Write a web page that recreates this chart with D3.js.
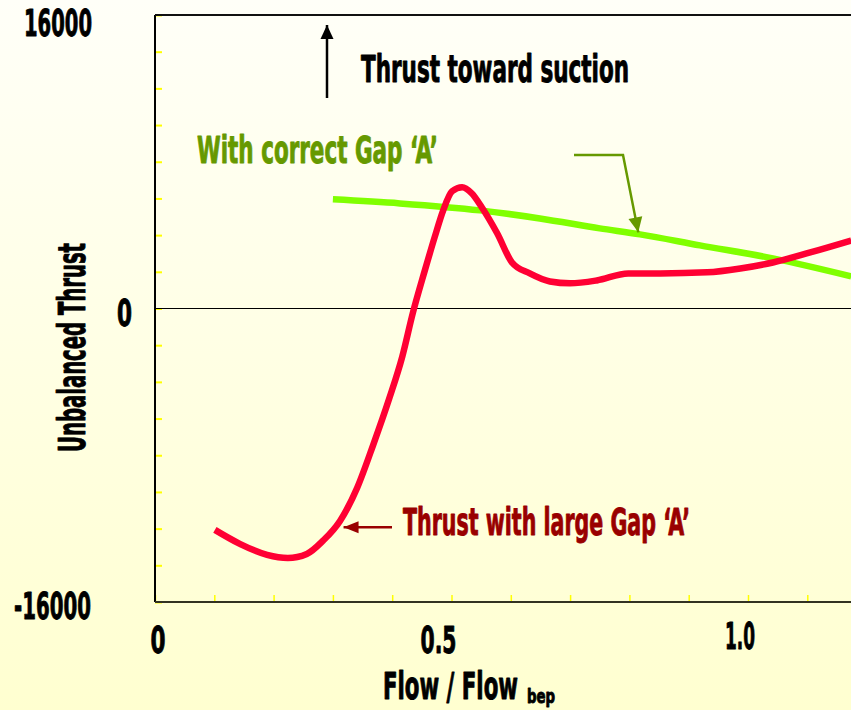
<!DOCTYPE html>
<html>
<head>
<meta charset="utf-8">
<script src="https://cdn.jsdelivr.net/npm/d3@7/dist/d3.min.js"></script>
<style>
  html, body { margin: 0; padding: 0; background: #fffff6; }
  svg { display: block; }
  .heavy { font-family: "Liberation Sans Narrow", "DejaVu Sans Condensed", "Liberation Sans", sans-serif; font-weight: bold; }
</style>
</head>
<body>
<svg id="chart" width="851" height="710"></svg>
<script>
// Flow ratio (Q / Q_bep) and unbalanced axial thrust
const largeGapFlow = [0.101, 0.143, 0.189, 0.224, 0.256, 0.283, 0.312, 0.341, 0.368, 0.395, 0.417,
  0.435, 0.455, 0.472, 0.486, 0.501, 0.518, 0.534, 0.551, 0.577, 0.602, 0.632, 0.666, 0.700,
  0.745, 0.798, 0.852, 0.931, 0.987, 1.042, 1.105, 1.174];
const largeGapThrust = [-12070, -12830, -13430, -13600, -13380, -12670, -11580, -9770, -7430, -4910, -2620,
  -220, 2070, 3930, 5350, 6390, 6610, 6280, 5520, 4100, 2510, 1910, 1470, 1370,
  1530, 1910, 1910, 1970, 2180, 2510, 3060, 3710];

const correctGapFlow = [0.300, 0.413, 0.548, 0.649, 0.750, 0.818, 0.919, 1.042, 1.174];
const correctGapThrust = [5950, 5730, 5350, 4910, 4370, 4040, 3440, 2730, 1750];

const yTickValues = d3.range(-16000, 16001, 2000);
const xTickValues = d3.range(0, 1.2, 0.1);
const yTickLabels = [16000, 0, -16000];
const xTickLabels = [0, 0.5, 1.0];

const W = 851, H = 710;
const svg = d3.select("#chart");

const x = d3.scaleLinear().domain([0, 1]).range([155, 748]);
const y = d3.scaleLinear().domain([-16000, 16000]).range([602, 15]);
const xEnd = W;

// background wash
const defs = svg.append("defs");
const grad = defs.append("linearGradient").attr("id", "bg").attr("x1", 0).attr("y1", 0).attr("x2", 0).attr("y2", 1);
grad.append("stop").attr("offset", "0%").attr("stop-color", "#fffff8");
grad.append("stop").attr("offset", "100%").attr("stop-color", "#ffffd0");
svg.append("rect").attr("width", W).attr("height", H).attr("fill", "url(#bg)");

// yellow minor ticks
svg.append("g")
  .attr("transform", `translate(${x(0)},0)`)
  .call(d3.axisRight(y).tickValues(yTickValues).tickSize(7).tickFormat(""))
  .call(g => g.select(".domain").remove())
  .call(g => g.selectAll("line").attr("stroke", "#ffff00").attr("stroke-width", 2));

svg.append("g")
  .attr("transform", `translate(0,${y(-16000)})`)
  .call(d3.axisTop(x).tickValues(xTickValues).tickSize(7).tickFormat(""))
  .call(g => g.select(".domain").remove())
  .call(g => g.selectAll("line").attr("stroke", "#ffff00").attr("stroke-width", 1.5));

// frame: left axis, top edge, bottom axis, zero line
svg.append("line").attr("x1", x(0)).attr("x2", x(0)).attr("y1", y(16000)).attr("y2", y(-16000))
  .attr("stroke", "#000").attr("stroke-width", 2);
svg.append("line").attr("x1", x(0)).attr("x2", xEnd).attr("y1", y(16000)).attr("y2", y(16000))
  .attr("stroke", "#111").attr("stroke-width", 2);
svg.append("line").attr("x1", x(0)).attr("x2", xEnd).attr("y1", y(-16000)).attr("y2", y(-16000))
  .attr("stroke", "#333322").attr("stroke-width", 2);
svg.append("line").attr("x1", x(0)).attr("x2", xEnd).attr("y1", y(0)).attr("y2", y(0))
  .attr("stroke", "#000").attr("stroke-width", 1.2);

// helper for heavy condensed text squeezed to a given width
function heavyText(sel, str, size, fill, len) {
  const t = sel.append("text").attr("class", "heavy")
    .attr("font-size", size).attr("fill", fill)
    .attr("stroke", fill).attr("stroke-width", 0.9).attr("stroke-linejoin", "round")
    .text(str);
  if (len) t.attr("textLength", len).attr("lengthAdjust", "spacingAndGlyphs");
  return t;
}

// y tick labels
const yLabelPlace = { "16000": { right: 92, dy: 21, len: 68 }, "0": { right: 132, dy: 17, len: 15 }, "-16000": { right: 91, dy: 17, len: 77 } };
yTickLabels.forEach(v => {
  const p = yLabelPlace[String(v)];
  heavyText(svg, String(v), 37, "#000", p.len)
    .attr("x", p.right - p.len).attr("y", y(v) + p.dy);
});

// x tick labels
const fmtX = d => d === 0 ? "0" : d3.format(".1f")(d);
const xLabelPlace = { "0": { dx: 3, base: 653, len: 15 }, "0.5": { dx: -13, base: 653, len: 36 }, "1.0": { dx: -8, base: 649, len: 30 } };
xTickLabels.forEach(v => {
  const s = fmtX(v), p = xLabelPlace[s];
  heavyText(svg, s, 37, "#000", p.len)
    .attr("x", x(v) + p.dx - p.len / 2).attr("y", p.base);
});

// axis titles
heavyText(svg, "Unbalanced Thrust", 37, "#000", 209)
  .attr("transform", "translate(85,452) rotate(-90)");
heavyText(svg, "Flow / Flow", 37, "#000", 135).attr("x", 383).attr("y", 699);
heavyText(svg, "bep", 20, "#000", 28).attr("x", 527).attr("y", 703);

// curves
const line = d3.line().x(d => x(d[0])).y(d => y(d[1])).curve(d3.curveMonotoneX);
const correctGap = correctGapFlow.map((f, i) => [f, correctGapThrust[i]]);
const largeGap = largeGapFlow.map((f, i) => [f, largeGapThrust[i]]);

svg.append("path").datum(correctGap).attr("d", line)
  .attr("fill", "none").attr("stroke", "#80ff00").attr("stroke-width", 6.5);
svg.append("path").datum(largeGap).attr("d", line)
  .attr("fill", "none").attr("stroke", "#ff0033").attr("stroke-width", 6.5)
  .attr("stroke-linejoin", "round").attr("stroke-linecap", "butt");

// arrow drawing: shaft through the given points, filled head at the last one
function arrow(pts, color, width, headLen, headHalf) {
  svg.append("path").attr("d", d3.line()(pts)).attr("fill", "none")
    .attr("stroke", color).attr("stroke-width", width);
  const [a, b] = [pts[pts.length - 2], pts[pts.length - 1]];
  const dx = b[0] - a[0], dy = b[1] - a[1], L = Math.hypot(dx, dy);
  const ux = dx / L, uy = dy / L;
  const bx = b[0] - ux * headLen, by = b[1] - uy * headLen;
  svg.append("path")
    .attr("d", `M${b[0]},${b[1]}L${bx - uy * headHalf},${by + ux * headHalf}L${bx + uy * headHalf},${by - ux * headHalf}Z`)
    .attr("fill", color);
}

// direction note
arrow([[327, 98], [327, 25]], "#000", 2.5, 14, 6.5);
heavyText(svg, "Thrust toward suction", 37, "#000", 268).attr("x", 361).attr("y", 82);

// callout for correct gap curve
heavyText(svg, "With correct Gap \u2018A\u2019", 37, "#669900", 241).attr("x", 197).attr("y", 163);
arrow([[574, 155], [623, 155], [x(0.815), y(4150)]], "#669900", 2.5, 15, 7);

// callout for large gap curve
arrow([[392, y(-11920)], [x(0.318), y(-11920)]], "#990000", 2.5, 15, 6);
heavyText(svg, "Thrust with large Gap \u2018A\u2019", 37, "#990000", 287).attr("x", 403).attr("y", 535);
</script>
</body>
</html>
